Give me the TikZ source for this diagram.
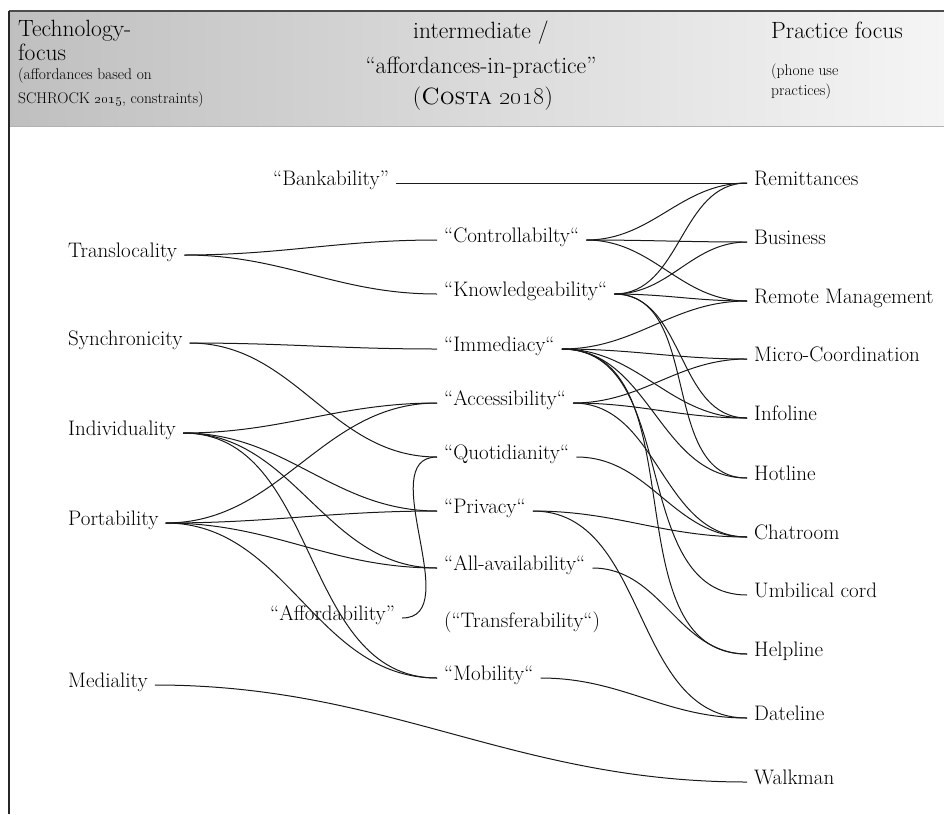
\documentclass[tikz,border=0pt]{standalone}
\usepackage{tikz}
\newcommand\hdfont{\fontsize{23.5}{25}\selectfont}
\newcommand\smfont{\fontsize{15.5}{17}\selectfont}
\newcommand\bdfont{\fontsize{21}{23}\selectfont}

\begin{document}
\begin{tikzpicture}[x=1pt, y=-1pt,
    lbl/.style={font=\bdfont, anchor=west, inner xsep=7pt, inner ysep=0pt,
                text height=1.55ex, text depth=0.3ex},
    hd/.style={anchor=base west, inner sep=0pt},
    hdc/.style={anchor=base, inner sep=0pt, font=\hdfont},
    link/.style={line width=1pt, black!90}]
  \useasboundingbox (0,0) rectangle (944,814);
  % header band
  \shade[left color=black!25, right color=black!4] (9,11) rectangle (944,126);
  \draw[black!70, line width=1.2pt] (9,11) -- (944,11);
  \draw[black!30, line width=1pt] (9,126) -- (944,126);
  \draw[black!85, line width=2pt] (9,11) -- (9,814);

  % column heads
  \node[hd, font=\hdfont] (tech)     at (18,36)  {Technology-};
  \node[hd, font=\hdfont] (techfoc)  at (18,60)  {focus};
  \node[hd, font=\smfont] (techsub)  at (18,79)  {(affordances based on};
  \node[hd, font=\smfont] (techref)  at (18,103) {SCHROCK \oldstylenums{2015}, constraints)};
  \node[hdc] (inter)    at (481,38)  {intermediate /};
  \node[hdc] (intersub) at (481,73)  {“affordances-in-practice”};
  \node[hdc] (interref) at (483,104) {(\textsc{Costa} \oldstylenums{2018})};
  \node[hd, font=\hdfont] (prac)     at (771,38) {Practice focus};
  \node[hd, font=\smfont] (pracsub)  at (771,75) {(phone use};
  \node[hd, font=\smfont] (pracsub2) at (771,95) {practices)};

  % technology side
  \foreach \n/\y/\t in {transl/255/Translocality, synch/343/Synchronicity,
                        indiv/433/Individuality, port/523/Portability, medial/685/Mediality}
    \node[lbl] (\n) at (61,\y) {\t};
  \node[lbl] (bank)   at (266,183) {“Bankability”};
  \node[lbl] (afford) at (263,618) {“Affordability”};

  % affordances-in-practice
  \foreach \n/\y/\t in {ctrl/240/“Controllabilty“, know/294/“Knowledgeability“,
                        immed/349/“Immediacy“, access/403/“Accessibility“,
                        quot/457/“Quotidianity“, priv/511/“Privacy“,
                        allav/568/“All-availability“, transf/625/(“Transferability“),
                        mobil/678/“Mobility“}
    \node[lbl] (\n) at (437,\y) {\t};

  % practices
  \foreach \n/\y/\t in {remit/183/Remittances, busin/242/Business, remote/301/Remote Management,
                        micro/359/Micro-Coordination, info/418/Infoline, hot/478/Hotline,
                        chat/537/Chatroom, umbil/595/Umbilical cord, help/654/Helpline,
                        date/718/Dateline, walk/782/Walkman}
    \node[lbl] (\n) at (747,\y) {\t};

  % links
  \draw[link] (bank.east) -- (remit.west);
  \foreach \a/\b in {transl/ctrl, transl/know, synch/immed, synch/quot,
                     indiv/access, indiv/priv, indiv/allav, indiv/mobil,
                     port/access, port/priv, port/allav, port/mobil,
                     afford/quot, medial/walk,
                     ctrl/remit, ctrl/busin, ctrl/remote,
                     know/remit, know/busin, know/remote, know/info, know/hot,
                     immed/remote, immed/micro, immed/info, immed/hot, immed/umbil, immed/help,
                     access/micro, access/info, access/chat,
                     quot/chat, priv/chat, priv/date, allav/help, mobil/date}
    \draw[link] (\a.east) to[out=0, in=180] (\b.west);
\end{tikzpicture}
\end{document}
